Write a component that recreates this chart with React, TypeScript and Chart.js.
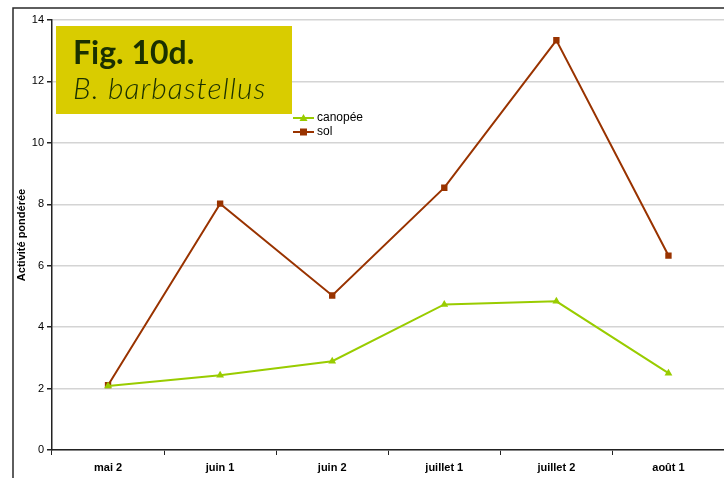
import React, { useEffect, useRef } from "react";
import { Chart, registerables } from "chart.js";

Chart.register(...registerables);

const categories = ["mai 2", "juin 1", "juin 2", "juillet 1", "juillet 2", "août 1"];
const canopee = [2.08, 2.43, 2.89, 4.74, 4.84, 2.5];
const sol = [2.11, 8.02, 5.03, 8.54, 13.34, 6.33];
const yTicks = [0, 2, 4, 6, 8, 10, 12, 14];
const yTitle = "Activité pondérée";
const figTitle = "Fig. 10d.";
const figSubtitle = "B. barbastellus";

const decorPlugin = {
  id: "decor",
  beforeDraw(chart: any) {
    const ctx = chart.ctx;
    ctx.save();
    ctx.fillStyle = "#ffffff";
    ctx.fillRect(0, 0, chart.width, chart.height);
    ctx.strokeStyle = "#2a2a2a";
    ctx.lineWidth = 1.5;
    ctx.beginPath();
    ctx.moveTo(13, chart.height);
    ctx.lineTo(13, 8);
    ctx.lineTo(chart.width, 8);
    ctx.stroke();
    ctx.restore();
  },
  afterDraw(chart: any) {
    const ctx = chart.ctx;
    ctx.save();
    // title box
    ctx.fillStyle = "#D9CC00";
    ctx.fillRect(56, 26, 236, 88);
    ctx.fillStyle = "#1A3000";
    ctx.textBaseline = "alphabetic";
    ctx.textAlign = "left";
    ctx.font = "bold 32px Lato, 'DejaVu Sans', sans-serif";
    ctx.fillText(figTitle, 73, 64);
    ctx.font = "italic 300 30px Lato, 'DejaVu Sans', sans-serif";
    try {
      (ctx as any).letterSpacing = "1px";
    } catch (e) {}
    ctx.fillText(figSubtitle, 73, 99);
    try {
      (ctx as any).letterSpacing = "0px";
    } catch (e) {}
    // legend
    const items = chart.data.datasets;
    ctx.font = "12px 'Liberation Sans', Arial, sans-serif";
    ctx.textBaseline = "middle";
    items.forEach((ds: any, i: number) => {
      const y = 118 + i * 14;
      ctx.strokeStyle = ds.borderColor;
      ctx.lineWidth = 2;
      ctx.beginPath();
      ctx.moveTo(293, y);
      ctx.lineTo(314, y);
      ctx.stroke();
      ctx.fillStyle = ds.borderColor;
      if (ds.pointStyle === "triangle") {
        ctx.beginPath();
        ctx.moveTo(303.5, y - 4);
        ctx.lineTo(307.5, y + 3);
        ctx.lineTo(299.5, y + 3);
        ctx.closePath();
        ctx.fill();
      } else {
        ctx.fillRect(300, y - 3.5, 7, 7);
      }
      ctx.fillStyle = "#000000";
      ctx.fillText(ds.label, 317, y);
    });
    ctx.restore();
  },
};

export default function App() {
  const ref = useRef<HTMLCanvasElement>(null);
  useEffect(() => {
    const chart = new Chart(ref.current as HTMLCanvasElement, {
      type: "line",
      data: {
        labels: categories,
        datasets: [
          {
            label: "canopée",
            data: canopee,
            borderColor: "#99CC00",
            backgroundColor: "#99CC00",
            borderWidth: 2,
            pointStyle: "triangle",
            pointRadius: 4.5,
            pointBorderWidth: 0,
            tension: 0,
          },
          {
            label: "sol",
            data: sol,
            borderColor: "#993300",
            backgroundColor: "#993300",
            borderWidth: 2,
            pointStyle: "rect",
            pointRadius: 4.5,
            pointBorderWidth: 0,
            tension: 0,
          },
        ],
      },
      options: {
        animation: false,
        responsive: false,
        maintainAspectRatio: false,
        layout: { padding: { left: 0, right: 0, top: 20, bottom: 0 } },
        plugins: { legend: { display: false }, tooltip: { enabled: false } },
        scales: {
          x: {
            offset: true,
            grid: {
              offset: true,
              drawOnChartArea: false,
              drawTicks: true,
              tickLength: 5,
              tickColor: "#222222",
            },
            border: { display: true, color: "#222222", width: 1.5 },
            ticks: {
              color: "#000000",
              font: { family: "'Liberation Sans', Arial, sans-serif", size: 11, weight: "bold" },
              padding: 6,
              maxRotation: 0,
            },
            afterFit(scale: any) {
              scale.height = 28;
              scale.paddingLeft = 0;
              scale.paddingRight = 0;
            },
          },
          y: {
            min: 0,
            max: 14,
            afterBuildTicks(scale: any) {
              scale.ticks = yTicks.map((v) => ({ value: v }));
            },
            grid: {
              color: "#d4d4d4",
              lineWidth: 1.5,
              drawTicks: true,
              tickLength: 5,
              tickColor: "#222222",
            },
            border: { display: true, color: "#222222", width: 1.5 },
            ticks: {
              color: "#000000",
              font: { family: "'Liberation Sans', Arial, sans-serif", size: 11 },
              padding: 3,
            },
            title: {
              display: true,
              text: yTitle,
              color: "#000000",
              font: { family: "'Liberation Sans', Arial, sans-serif", size: 11, weight: "bold" },
              padding: { top: 15, bottom: 0 },
            },
            afterFit(scale: any) {
              scale.width = 52;
            },
          },
        },
      },
      plugins: [decorPlugin],
    } as any);
    return () => chart.destroy();
  }, []);
  return (
    <div style={{ position: "fixed", left: 0, top: 0, width: 724, height: 478, overflow: "hidden" }}>
      <canvas ref={ref} width={729} height={478} style={{ display: "block" }} />
    </div>
  );
}
